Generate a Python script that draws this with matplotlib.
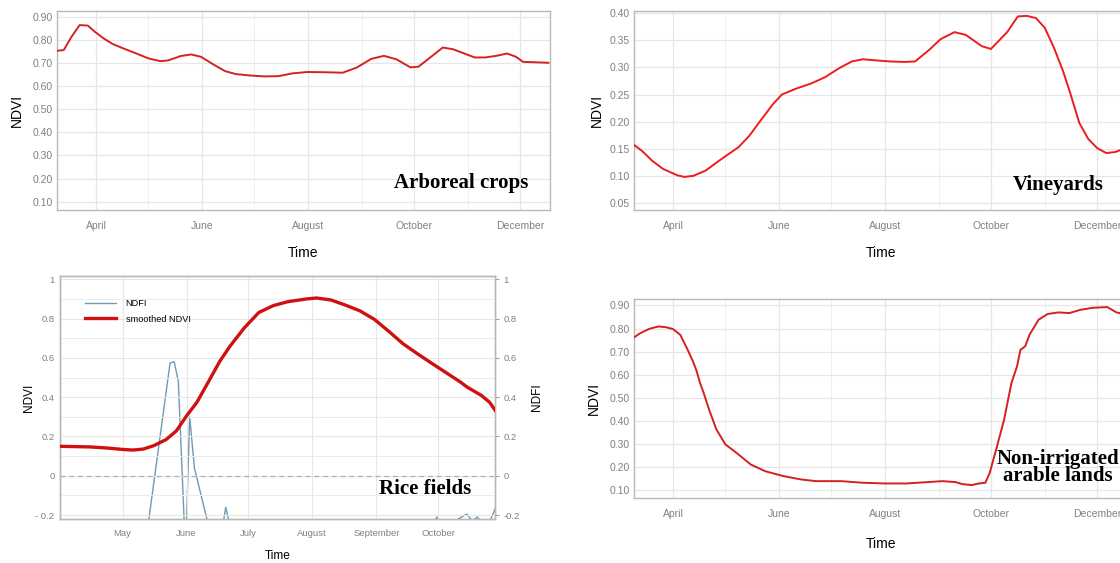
import numpy as np
import pandas as pd
import matplotlib
matplotlib.use('Agg')
import matplotlib.pyplot as plt
import matplotlib.dates as mdates
from matplotlib.lines import Line2D

plt.rcParams['font.family'] = ['Liberation Sans', 'DejaVu Sans']

# days counted from 1 April 2018
start = pd.Timestamp('2018-04-01')

arboreal_days = [-22.2, -18.5, -14, -9.4, -4.7, -0.6, 4.5, 9.7, 15.8, 23, 30.2, 37, 41.5, 48.7,
                 54.8, 60.4, 68.2, 74.3, 80.5, 88.7, 96.9, 105, 113, 121.6, 131.8, 142, 150,
                 158.5, 165.7, 172.9, 181, 185.6, 193.4, 199.6, 205.7, 212, 218, 224, 230.4,
                 236.6, 241.7, 245.8, 253, 260.4]
arboreal_ndvi = [0.753, 0.756, 0.814, 0.864, 0.862, 0.835, 0.806, 0.782, 0.763, 0.742, 0.720,
                 0.708, 0.711, 0.730, 0.737, 0.727, 0.691, 0.665, 0.652, 0.646, 0.642, 0.643,
                 0.655, 0.661, 0.660, 0.658, 0.680, 0.718, 0.731, 0.716, 0.681, 0.684, 0.730,
                 0.767, 0.759, 0.741, 0.724, 0.724, 0.731, 0.741, 0.727, 0.705, 0.703, 0.701]

vine_days = [-22.4, -17.8, -12, -5.8, 2.5, 6.6, 11.8, 19, 25.3, 31.5, 37.8, 44, 50.2, 57.5,
             62.7, 71, 79.3, 87.6, 95.9, 103, 109.3, 116.6, 124.9, 133.2, 139.4, 147.7, 154,
             162, 168.5, 177.8, 183, 192.3, 198.5, 203.7, 208.9, 214, 219.3, 224.5, 228.6,
             233.8, 239, 244.2, 249.4, 254.6, 258.7, 261]
vine_ndvi = [0.157, 0.146, 0.128, 0.113, 0.101, 0.098, 0.100, 0.110, 0.125, 0.139, 0.153,
             0.174, 0.201, 0.232, 0.250, 0.261, 0.270, 0.282, 0.299, 0.311, 0.315, 0.313,
             0.311, 0.310, 0.311, 0.333, 0.352, 0.365, 0.360, 0.339, 0.334, 0.365, 0.394,
             0.395, 0.391, 0.373, 0.336, 0.293, 0.253, 0.198, 0.168, 0.151, 0.142, 0.144,
             0.149, 0.152]

rice_days = [0, 14, 23, 30, 35, 40, 45, 51, 56, 61, 66, 72, 77, 82, 89, 96, 103, 110, 119,
             124, 131, 138, 145, 152, 159, 166, 173, 180, 187, 194, 197, 204, 208, 211]
rice_ndvi = [0.150, 0.147, 0.141, 0.134, 0.131, 0.136, 0.153, 0.184, 0.228, 0.305, 0.374,
             0.486, 0.581, 0.659, 0.753, 0.831, 0.866, 0.886, 0.900, 0.905, 0.895, 0.869,
             0.840, 0.797, 0.736, 0.672, 0.621, 0.572, 0.524, 0.476, 0.452, 0.409, 0.374, 0.328]
rice_ndfi_days = [0, 10, 20, 30, 40, 53, 55, 57, 60.5, 62.5, 64.8, 72, 77, 80, 83, 95, 110,
                  130, 150, 170, 178, 182.4, 186, 191, 197, 199.5, 202, 204, 208, 211]
rice_ndfi = [-0.45, -0.50, -0.48, -0.42, -0.43, 0.575, 0.58, 0.48, -0.40, 0.30, 0.04, -0.27,
             -0.35, -0.16, -0.30, -0.45, -0.50, -0.48, -0.45, -0.40, -0.30, -0.21, -0.25,
             -0.23, -0.195, -0.23, -0.21, -0.235, -0.235, -0.16]

arable_days = [-22.9, -18.75, -13.5, -8.3, -4.2, 0, 4.2, 8.3, 11.5, 13.5, 15.6, 17.7, 20.8,
               25, 30.2, 36.5, 44.8, 53.1, 63.5, 74, 82.3, 96.9, 109.4, 121.9, 134.4, 146.9,
               155.2, 162.5, 166.7, 171.9, 176, 179.8, 182.3, 186.5, 190.6, 194.8, 198, 200,
               202.7, 205.2, 210.4, 215.6, 221.9, 228.1, 234.4, 241.7, 250, 255.2, 260.4]
arable_ndvi = [0.759, 0.780, 0.799, 0.809, 0.806, 0.798, 0.773, 0.711, 0.658, 0.619, 0.564,
               0.521, 0.449, 0.363, 0.298, 0.262, 0.211, 0.182, 0.161, 0.146, 0.139, 0.139,
               0.132, 0.129, 0.129, 0.135, 0.139, 0.135, 0.126, 0.122, 0.129, 0.132, 0.175,
               0.290, 0.406, 0.564, 0.636, 0.708, 0.723, 0.773, 0.838, 0.863, 0.870, 0.867,
               0.881, 0.890, 0.893, 0.870, 0.861]

ndvi_ticks = [0.1, 0.2, 0.3, 0.4, 0.5, 0.6, 0.7, 0.8, 0.9]
vine_ticks = [0.05, 0.10, 0.15, 0.20, 0.25, 0.30, 0.35, 0.40]
rice_ticks = [-0.2, 0, 0.2, 0.4, 0.6, 0.8, 1]
rice_left_labels = ['- 0.2', '0', '0.2', '0.4', '0.6', '0.8', '1']
rice_right_labels = ['-0.2', '0', '0.2', '0.4', '0.6', '0.8', '1']


def to_dates(days):
    return start + pd.to_timedelta(np.array(days, dtype=float), unit='D')


GRID = '#e6e6e6'
FRAME = '#b8b8b8'
TICKC = '#808080'

fig = plt.figure(figsize=(11.2, 5.63), dpi=100)


def season_panel(rect, days, vals, color, yticks, ylim, label, lx, ly, ypad=6, xpad=11):
    ax = fig.add_axes(rect)
    ax.plot(to_dates(days), vals, color=color, lw=1.4, zorder=3)
    ax.set_xlim(to_dates([-22.4])[0], to_dates([261.3])[0])
    ax.set_ylim(*ylim)
    ax.xaxis.set_major_locator(mdates.MonthLocator(bymonth=[4, 6, 8, 10, 12]))
    ax.xaxis.set_minor_locator(mdates.MonthLocator(bymonth=[3, 5, 7, 9, 11]))
    ax.xaxis.set_major_formatter(mdates.DateFormatter('%B'))
    ax.set_yticks(yticks)
    ax.set_yticklabels([f'{t:.2f}' for t in yticks])
    ax.grid(True, which='major', color=GRID, lw=0.9)
    ax.grid(True, which='minor', axis='x', color='#efefef', lw=0.7)
    ax.tick_params(which='both', length=0, labelsize=7.5, colors=TICKC)
    ax.tick_params(axis='x', pad=8)
    ax.tick_params(axis='y', pad=3)
    for s in ax.spines.values():
        s.set_color(FRAME)
        s.set_linewidth(1.0)
    ax.set_ylabel('NDVI', fontsize=10, labelpad=ypad)
    ax.set_xlabel('Time', fontsize=10, labelpad=xpad)
    ax.text(lx, ly, label, transform=ax.transAxes, ha='center', va='center',
            family='Liberation Serif', fontweight='bold', fontsize=15, linespacing=0.8)
    return ax


W = 493 / 1120
H = 199 / 563
season_panel([57 / 1120, 1 - 210 / 563, W, H], arboreal_days, arboreal_ndvi, '#d42222',
             ndvi_ticks, (0.064, 0.925), 'Arboreal crops', 0.82, 0.136, ypad=6)
season_panel([634 / 1120, 1 - 210 / 563, W, H], vine_days, vine_ndvi, '#ee1c1c',
             vine_ticks, (0.037, 0.404), 'Vineyards', 0.86, 0.126, ypad=4)
season_panel([634 / 1120, 1 - 498 / 563, W, H], arable_days, arable_ndvi, '#d42020',
             ndvi_ticks, (0.066, 0.928), 'Non-irrigated\narable lands', 0.86, 0.152, ypad=6,
             xpad=13)

# rice fields panel with NDFI on a second axis
ax = fig.add_axes([60 / 1120, 1 - 519 / 563, 435 / 1120, 243 / 563])
ax2 = ax.twinx()
x0, x1 = to_dates([-0.4])[0], to_dates([210.6])[0]
ax.plot(to_dates(rice_days), rice_ndvi, color='#d01010', lw=2.4, zorder=4)
ax2.plot(to_dates(rice_ndfi_days), rice_ndfi, color='#6f9bb0', lw=1.0, zorder=3)
for a in (ax, ax2):
    a.set_xlim(x0, x1)
    a.set_ylim(-0.22, 1.017)
    a.set_yticks(rice_ticks)
ax.set_zorder(ax2.get_zorder() + 1)
ax.patch.set_visible(False)
ax.set_yticklabels(rice_left_labels)
ax2.set_yticklabels(rice_right_labels)
ax.set_yticks([-0.1, 0.1, 0.3, 0.5, 0.7, 0.9], minor=True)
ax.axhline(0, color='#b0b0b0', lw=0.9, ls=(0, (4, 3)), zorder=2)
ax.xaxis.set_major_locator(mdates.MonthLocator(bymonth=[5, 6, 7, 8, 9, 10]))
ax.xaxis.set_major_formatter(mdates.DateFormatter('%B'))
ax.grid(True, which='major', color=GRID, lw=0.8)
ax.grid(True, which='minor', axis='y', color='#ececec', lw=0.7)
ax.tick_params(which='both', length=0, labelsize=6.8, colors=TICKC)
ax.tick_params(axis='x', pad=7)
ax.tick_params(axis='y', pad=4)
ax2.tick_params(length=3, width=0.8, color='#a0a0a0', labelsize=6.8, labelcolor=TICKC, pad=3)
for a in (ax, ax2):
    for s in a.spines.values():
        s.set_color(FRAME)
        s.set_linewidth(1.0)
ax.set_ylabel('NDVI', fontsize=8.5, labelpad=0.5)
ax2.set_ylabel('NDFI', fontsize=8.5, labelpad=8)
ax.set_xlabel('Time', fontsize=8.5, labelpad=9)
handles = [Line2D([], [], color='#6f9bb0', lw=1.0), Line2D([], [], color='#d01010', lw=2.4)]
ax.legend(handles, ['NDFI', 'smoothed NDVI'], loc='upper left', bbox_to_anchor=(0.058, 0.905),
          frameon=False, fontsize=6.6, handlelength=3.4, handletextpad=1.0,
          labelspacing=0.7, borderpad=0, borderaxespad=0)
ax.text(0.839, 0.123, 'Rice fields', transform=ax.transAxes, ha='center', va='center',
        family='Liberation Serif', fontweight='bold', fontsize=15)

fig.savefig('out.png', dpi=100)
